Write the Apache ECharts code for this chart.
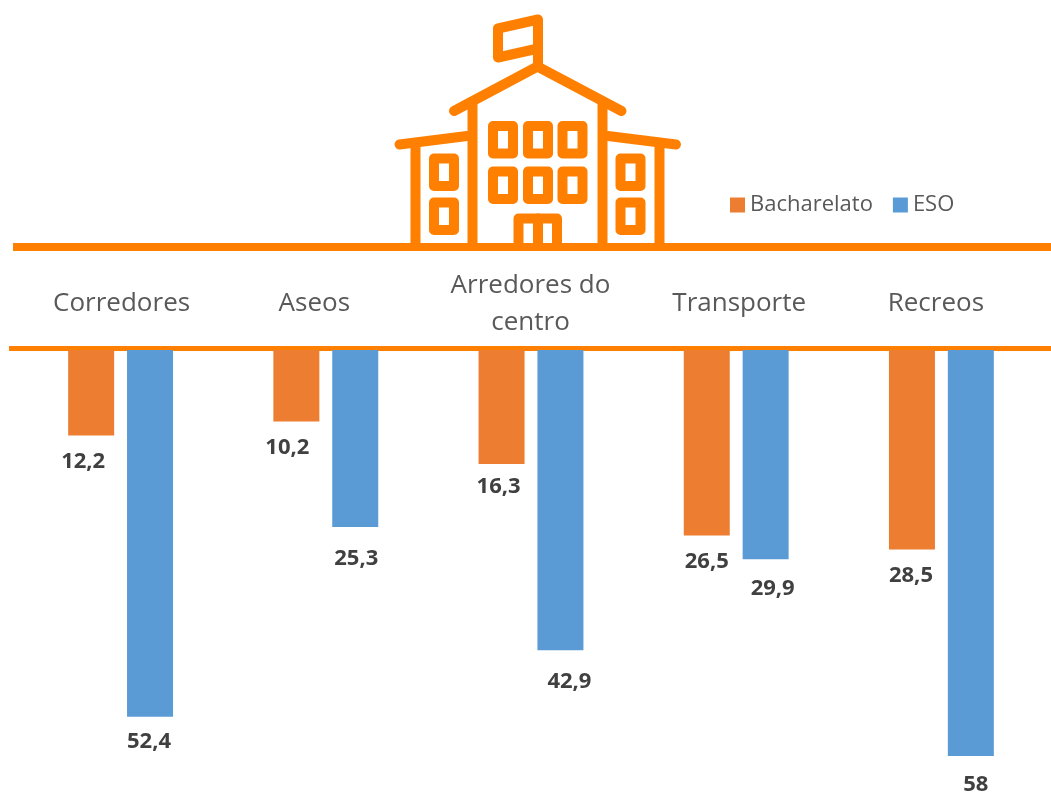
<!DOCTYPE html>
<html>
<head>
<meta charset="utf-8">
<title>Bacharelato e ESO</title>
<script src="https://cdn.jsdelivr.net/npm/echarts@6/dist/echarts.min.js"></script>
<style>
  html, body { margin: 0; padding: 0; background: #fff; }
  #chart { width: 1051px; height: 794px; }
</style>
</head>
<body>
<div id="chart"></div>
<script>
const categories = ['Corredores', 'Aseos', 'Arredores do\ncentro', 'Transporte', 'Recreos'];
const bacharelato = [12.2, 10.2, 16.3, 26.5, 28.5];
const eso = [52.4, 25.3, 42.9, 29.9, 58];

const ORANGE_LINE = '#FF8000';
const chart = echarts.init(document.getElementById('chart'));

// etiquetas un poco desplazadas respecto a la barra, como en el original
const bachNudge = [[-8, 1], [-9, 1], [-3, -2], [0, 1], [-1, 1]];
const esoNudge = [[-1, 0], [1, 7], [9, 6], [7, 4], [5, 4]];
// padding de los nombres de categoria (izquierda, derecha)
const catPadding = [[2, 0], [0, 23], [0, 1], [6, 0], [0, 11]];

function withNudge(values, nudges) {
  return values.map((v, i) => ({ value: v, label: { offset: nudges[i] } }));
}

function barSeries(name, values, nudges, color) {
  return {
    name: name,
    type: 'bar',
    data: withNudge(values, nudges),
    barWidth: 46,
    barGap: '28%',
    itemStyle: { color: color },
    label: {
      show: true,
      position: 'bottom',
      distance: 14,
      color: '#404040',
      fontFamily: 'Open Sans',
      fontWeight: 'bold',
      fontSize: 22,
      formatter: p => String(p.value).replace('.', ',')
    }
  };
}

// icono del colegio
function stroke(points) {
  return {
    type: 'polyline',
    shape: { points: points },
    style: { stroke: ORANGE_LINE, lineWidth: 10, fill: null, lineCap: 'round', lineJoin: 'round' }
  };
}
function win(x1, y1, x2, y2) {
  return {
    type: 'rect',
    shape: { x: x1, y: y1, width: x2 - x1, height: y2 - y1 },
    style: { stroke: ORANGE_LINE, lineWidth: 10, fill: '#fff', lineJoin: 'round' }
  };
}
function hline(x1, x2, y, w) {
  return {
    type: 'line',
    shape: { x1: x1, y1: y, x2: x2, y2: y },
    style: { stroke: ORANGE_LINE, lineWidth: w }
  };
}

const schoolIcon = [
  stroke([[538, 66], [538, 19.5], [498, 28.5], [498, 57.5], [538, 48.5]]),
  stroke([[454, 111], [537.5, 66.5], [621.5, 111]]),
  stroke([[472.5, 103], [472.5, 245]]),
  stroke([[602.5, 103], [602.5, 245]]),
  stroke([[399.5, 144.5], [467, 136]]),
  stroke([[676, 144.5], [608, 136]]),
  stroke([[415.5, 146], [415.5, 245]]),
  stroke([[659.5, 146], [659.5, 245]]),
  win(493, 126, 513, 153.5), win(528, 126, 548, 153.5), win(562.5, 126, 582.5, 153.5),
  win(493, 171.5, 513, 199), win(528, 171.5, 548, 199), win(562.5, 171.5, 582.5, 199),
  win(434, 158.5, 454, 186), win(434, 202.5, 454, 230),
  win(620.5, 158.5, 640.5, 186), win(620.5, 202.5, 640.5, 230),
  stroke([[518.5, 245], [518.5, 218.5], [557, 218.5], [557, 245]]),
  stroke([[538, 218.5], [538, 245]]),
  hline(13, 1051, 247, 8),
  hline(9, 1051, 348.5, 5)
];

const option = {
  animation: false,
  backgroundColor: '#fff',
  textStyle: { fontFamily: 'Open Sans' },
  grid: { left: 18, width: 1026, top: 350, height: 420 },
  legend: {
    left: 725,
    top: 189,
    itemWidth: 15,
    itemHeight: 15,
    itemGap: 20,
    icon: 'rect',
    textStyle: { color: '#595959', fontSize: 22, fontFamily: 'Open Sans' },
    data: ['Bacharelato', 'ESO']
  },
  xAxis: {
    type: 'category',
    position: 'top',
    data: categories.map((c, i) => ({
      value: c,
      textStyle: {
        padding: [0, catPadding[i][1], 0, catPadding[i][0]],
        verticalAlign: 'middle'
      }
    })),
    axisLine: { show: false },
    axisTick: { show: false },
    axisLabel: {
      color: '#595959',
      fontFamily: 'Open Sans',
      fontSize: 26,
      lineHeight: 37,
      margin: 46,
      verticalAlign: 'middle',
      interval: 0
    }
  },
  yAxis: { type: 'value', inverse: true, min: 0, max: 60, show: false },
  series: [
    barSeries('Bacharelato', bacharelato, bachNudge, '#ED7D31'),
    barSeries('ESO', eso, esoNudge, '#5B9BD5')
  ],
  graphic: { elements: schoolIcon }
};

chart.setOption(option);
</script>
</body>
</html>
